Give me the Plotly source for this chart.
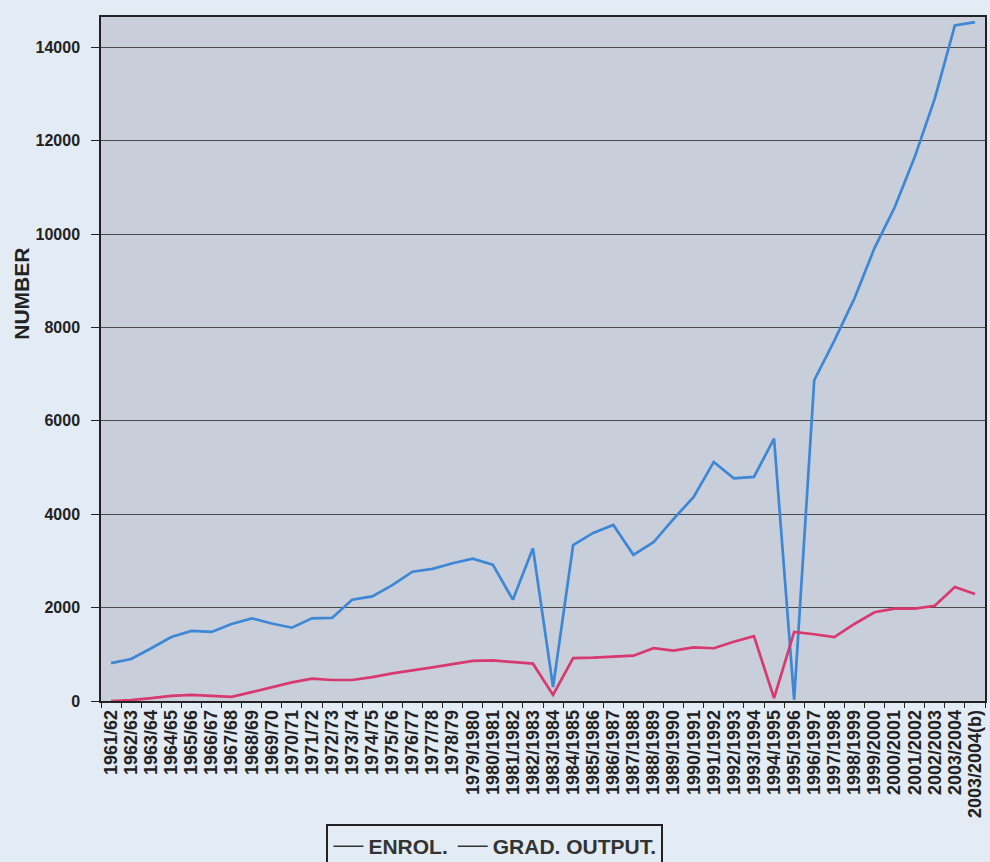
import plotly.graph_objects as go

years = ["1961/62", "1962/63", "1963/64", "1964/65", "1965/66", "1966/67", "1967/68",
         "1968/69", "1969/70", "1970/71", "1971/72", "1972/73", "1973/74", "1974/75",
         "1975/76", "1976/77", "1977/78", "1978/79", "1979/1980", "1980/1981",
         "1981/1982", "1982/1983", "1983/1984", "1984/1985", "1985/1986", "1986/1987",
         "1987/1988", "1988/1989", "1989/1990", "1990/1991", "1991/1992", "1992/1993",
         "1993/1994", "1994/1995", "1995/1996", "1996/1997", "1997/1998", "1998/1999",
         "1999/2000", "2000/2001", "2001/2002", "2002/2003", "2003/2004", "2003/2004(b)"]

enrol = [810, 900, 1130, 1370, 1500, 1480, 1650, 1770, 1660, 1570,
         1770, 1780, 2170, 2240, 2480, 2770, 2830, 2950, 3050, 2920,
         2170, 3270, 300, 3340, 3600, 3770, 3130, 3400, 3900, 4370,
         5120, 4770, 4800, 5620, 30, 6870, 7720, 8620, 9700, 10570,
         11650, 12900, 14470, 14540]

grad_output = [0, 20, 60, 110, 130, 110, 90, 190, 290, 400,
               480, 450, 450, 510, 590, 650, 720, 790, 860, 870,
               840, 800, 130, 920, 930, 950, 970, 1130, 1080, 1150,
               1130, 1270, 1390, 60, 1480, 1430, 1370, 1650, 1900, 1980,
               1980, 2040, 2440, 2290]

y_ticks = [0, 2000, 4000, 6000, 8000, 10000, 12000, 14000]

FONT = "Liberation Sans, Arial, sans-serif"
BLUE = "#3d87d6"
PINK = "#d8396f"

fig = go.Figure()
fig.add_trace(go.Scatter(x=years, y=enrol, mode="lines", name="ENROL.",
                         line=dict(color=BLUE, width=2.7), showlegend=False))
fig.add_trace(go.Scatter(x=years, y=grad_output, mode="lines", name="GRAD. OUTPUT.",
                         line=dict(color=PINK, width=2.7), showlegend=False))
# legend keys (the printed legend shows dark line samples)
fig.add_trace(go.Scatter(x=[None], y=[None], mode="lines", name="<b>ENROL.</b>",
                         line=dict(color="#333333", width=1.5)))
fig.add_trace(go.Scatter(x=[None], y=[None], mode="lines", name="<b>GRAD. OUTPUT.</b>",
                         line=dict(color="#333333", width=1.5)))

fig.update_layout(
    width=990, height=862,
    margin=dict(l=101, r=5, t=17, b=161, autoexpand=False),
    paper_bgcolor="#e3ebf4",
    plot_bgcolor="#c8cfda",
    font=dict(family=FONT, color="#222222"),
    showlegend=True,
    legend=dict(orientation="h", x=0.255, xanchor="left",
                y=0.044, yref="container", yanchor="top",
                bgcolor="rgba(0,0,0,0)", bordercolor="#222222", borderwidth=2,
                font=dict(size=21, color="#333333", family=FONT),
                itemwidth=30, tracegroupgap=0),
    annotations=[dict(text="<b>NUMBER</b>", xref="paper", yref="paper",
                      x=-0.09, y=0.596, xanchor="center", yanchor="middle",
                      textangle=-90, showarrow=False,
                      font=dict(size=21, color="#222222", family=FONT))],
)

fig.update_xaxes(
    type="category", tickangle=-90, automargin=False,
    tickvals=years, ticktext=["<b>%s</b>" % y for y in years],
    tickfont=dict(size=18, family=FONT, color="#222222"),
    ticks="outside", ticklen=5, tickcolor="#222222", tickson="boundaries",
    showline=True, linecolor="#222222", linewidth=1.5, mirror=True,
    showgrid=False, range=[-0.5, len(years) - 0.5],
)
fig.update_yaxes(
    range=[0, 14650], tickvals=y_ticks, automargin=False,
    ticktext=["<b>%d</b>" % v for v in y_ticks],
    tickfont=dict(size=16, family=FONT, color="#222222"),
    ticks="outside", ticklen=8, tickcolor="#222222", ticklabelstandoff=8,
    showline=True, linecolor="#222222", linewidth=1.5, mirror=True,
    showgrid=True, gridcolor="#4a4a4a", gridwidth=1,
    zeroline=False,
)

fig.write_html("out.html", config={"displayModeBar": False},
               post_script="document.body.style.margin='0';document.body.style.overflow='hidden';")
